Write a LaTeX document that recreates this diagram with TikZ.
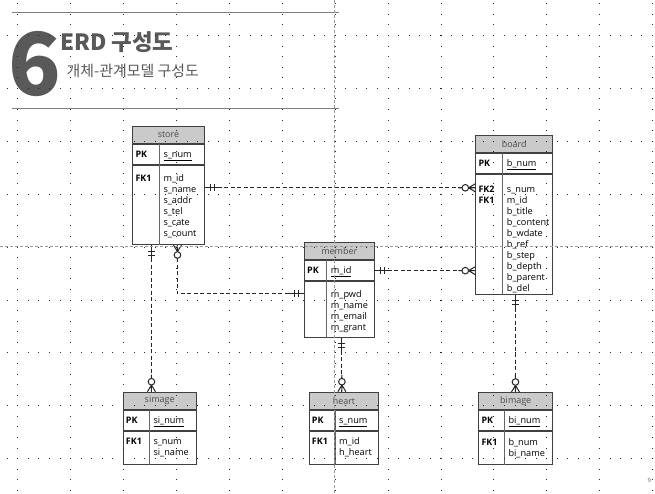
\documentclass[tikz,border=0pt]{standalone}
\usepackage{fontspec}
\setmainfont{Open Sans}
\newfontfamily\krfont{Noto Sans CJK KR}
\usetikzlibrary{positioning}
\definecolor{titlegray}{HTML}{595959}
\definecolor{rulegray}{HTML}{7F7F7F}
\definecolor{headfill}{HTML}{CACACA}
\definecolor{boxline}{HTML}{404040}
\definecolor{guidegray}{HTML}{9A9A9A}
\tikzset{
    %Define style for table parts
    tblhead/.style={
           rectangle,
           draw=boxline, fill=headfill,
           line width=0.9bp,
           minimum height=17bp,
           inner sep=0pt,
           text=black!70,
           font=\fontsize{9}{10}\selectfont},
    tblrow/.style={
           rectangle,
           draw=boxline,
           line width=0.9bp,
           minimum height=20bp,
           inner sep=0pt},
    tbldiv/.style={draw=black!60, line width=1.3bp},
    keytxt/.style={anchor=base west, inner sep=0pt,
           font=\fontsize{9}{10}\selectfont\bfseries},
    fieldtxt/.style={anchor=base west, inner sep=0pt,
           font=\fontsize{9.2}{10}\selectfont, text=black},
    % Define line styles
    relline/.style={draw=black!85, line width=1.1bp, dash pattern=on 4bp off 2.5bp},
    relmark/.style={draw=black!85, line width=1bp, solid},
    guide/.style={draw=guidegray, line width=0.6bp, dash pattern=on 3bp off 2bp},
    headrule/.style={draw=rulegray, line width=1bp},
    griddot/.style={fill=black!85}
}
% name, top left, width, divider, body height, pk field, keys, fields, first line
\newcommand{\erdtable}[9]{%
  \node[tblhead, minimum width=#3bp, anchor=north west] (#1) at (#2) {#1};
  \node[tblrow, minimum width=#3bp, below=0pt of #1] (#1-pk) {};
  \node[tblrow, minimum width=#3bp, minimum height=#5bp, below=0pt of #1-pk] (#1-body) {};
  \draw[tbldiv] ([xshift=#4bp]#1-pk.north west) -- ([xshift=#4bp]#1-body.south west);
  \node[keytxt] at ([shift={(3,-13.5)}]#1-pk.north west) {PK};
  \node[fieldtxt] at ([shift={(#4+4,-13.5)}]#1-pk.north west) {\underline{#6}};
  \foreach \k [count=\i] in {#7}
    \node[keytxt] at ([shift={(3,{-#9-11*(\i-1)})}]#1-body.north west) {\k};
  \foreach \f [count=\i] in {#8}
    \node[fieldtxt] at ([shift={(#4+4,{-#9-11*(\i-1)})}]#1-body.north west) {\f};
}
% one and only one / zero or many ends
\newcommand{\onemark}[2]{%
  \draw[relmark, shift={(#1)}, rotate=#2] (0,0) -- (15,0)
    (6,-3.5) -- (6,3.5) (10,-3.5) -- (10,3.5);}
\newcommand{\manymark}[2]{%
  \draw[relmark, shift={(#1)}, rotate=#2] (0,-4) -- (6.7,0) -- (0,4)
    (0,0) -- (6.7,0) (13.3,0) -- (17,0);
  \draw[relmark, fill=white, shift={(#1)}, rotate=#2] (10,0) circle[radius=3.3bp];}

\begin{document}
\begin{tikzpicture}[x=1bp,y=1bp]
\useasboundingbox[fill=white] (0,0) rectangle (655,-494);

 %title
\draw[headrule] (12.3,-12.3) -- (339.3,-12.3);
\draw[headrule] (12.3,-108.3) -- (339.3,-108.3);
\node[anchor=base west, inner sep=0pt, text=titlegray,
  font=\krfont\bfseries\fontsize{87}{87}\selectfont] (num) at (8.7,-95.7) {6};
\node[anchor=base west, inner sep=0pt, text=titlegray,
  font=\krfont\bfseries\fontsize{22.5}{24}\selectfont] (title) at (60,-51) {ERD 구성도};
\node[anchor=base west, inner sep=0pt, text=titlegray,
  font=\krfont\fontsize{15}{17}\selectfont] (subtitle) at (66.5,-77) {개체-관계모델 구성도};

 %tables
\erdtable{store}{132.3,-126}{71.4}{27}{79.3}{s\_num}{FK1}
  {m\_id, s\_name, s\_addr, s\_tel, s\_cate, s\_count}{16.5}
\erdtable{board}{475.3,-135.3}{77}{27.4}{119.7}{b\_num}{FK2, FK1}
  {s\_num, m\_id, b\_title, b\_content, b\_wdate, b\_ref, b\_step, b\_depth, b\_parent, b\_del}{18.6}
\erdtable{member}{304,-242.3}{69.7}{22.7}{55.7}{m\_id}{}
  {m\_pwd, m\_name, m\_email, m\_grant}{16.5}
\erdtable{simage}{122.7,-391.7}{73}{26.6}{33.6}{si\_num}{FK1}
  {s\_num, si\_name}{14}
\erdtable{heart}{308.7,-391.7}{69.6}{26.3}{33.6}{s\_num}{FK1}
  {m\_id, h\_heart}{14}
\erdtable{bimage}{478.3,-392}{74}{26}{33.3}{bi\_num}{FK1}
  {b\_num, bi\_name}{15}

 %relations
\coordinate (sb-s) at ([yshift=-23bp]store-body.north east);
\coordinate (sb-b) at (sb-s -| board-body.west);
\coordinate (mb-m) at (member-pk.east);
\coordinate (mb-b) at (mb-m -| board-body.west);
\coordinate (sm-s) at ([xshift=9bp]store-body.south);
\coordinate (sm-m) at ([yshift=-12.5bp]member-body.north west);
\coordinate (ss-s) at ([xshift=-17bp]store-body.south);
\coordinate (ss-i) at (ss-s |- simage.north);
\coordinate (mh-m) at ([xshift=2.6bp]member-body.south);
\coordinate (mh-h) at (mh-m |- heart.north);
\coordinate (bb-b) at ([xshift=1.2bp]board-body.south);
\coordinate (bb-i) at (bb-b |- bimage.north);

\draw[relline] (sb-s) -- (sb-b);
\draw[relline] (mb-m) -- (mb-b);
\draw[relline] (sm-s) |- (sm-m);
\draw[relline] (ss-s) -- (ss-i);
\draw[relline] (mh-m) -- (mh-h);
\draw[relline] (bb-b) -- (bb-i);

\onemark{sb-s}{0}    \manymark{sb-b}{180}
\onemark{mb-m}{0}    \manymark{mb-b}{180}
\manymark{sm-s}{-90} \onemark{sm-m}{180}
\onemark{ss-s}{-90}  \manymark{ss-i}{90}
\onemark{mh-m}{-90}  \manymark{mh-h}{90}
\onemark{bb-b}{-90}  \manymark{bb-i}{90}

 %guides and grid
\draw[guide] (334.7,0) -- (334.7,-494);
\draw[guide] (0,-246.5) -- (655,-246.5);
\foreach \j in {0,...,8}
  \foreach \i in {0,...,62}
    \fill[griddot] ({-3.9+\i*10.58},{-(35+\j*52.9)}) rectangle ++(1,-1);
\foreach \i in {0,...,12}
  \foreach \j in {-3,...,43}
    \fill[griddot] ({17.3+\i*52.9},{-(35+\j*10.58)}) rectangle ++(1,-1);

\node[anchor=base west, inner sep=0pt, text=black!60,
  font=\fontsize{6}{7}\selectfont] (page) at (647.5,-482) {9};
\end{tikzpicture}
\end{document}
